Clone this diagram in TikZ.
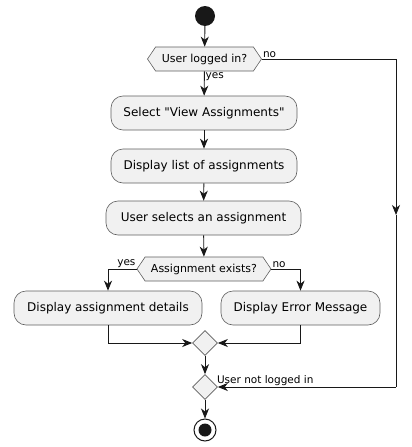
\documentclass[tikz,border=0pt]{standalone}
\usepackage{fontspec}
\setmainfont{DejaVu Sans}
\usetikzlibrary{arrows.meta, shapes.symbols, shapes.geometric, positioning}
\definecolor{boxfill}{HTML}{F1F1F1}
\definecolor{lineclr}{HTML}{181818}
\definecolor{edgeclr}{HTML}{5E5E5E}

\begin{document}
\begin{tikzpicture}[x=1pt, y=-1pt,
    action/.style={draw=edgeclr, fill=boxfill, line width=0.6pt, rounded corners=12pt,
      minimum height=34pt, inner sep=0pt, font=\fontsize{12}{14}\selectfont},
    decision/.style={draw=edgeclr, fill=boxfill, line width=0.6pt, signal,
      signal to=west and east, signal pointer angle=112, minimum height=24pt,
      inner sep=0pt, font=\fontsize{11}{13}\selectfont},
    merge/.style={diamond, draw=edgeclr, fill=boxfill, line width=0.6pt,
      minimum size=25pt, inner sep=0pt},
    flow/.style={draw=lineclr, line width=0.9pt,
      -{Stealth[length=10pt, width=8pt, inset=3pt]}},
    lbl/.style={font=\fontsize{10.5}{12}\selectfont, inner sep=1pt}
  ]

    \useasboundingbox (0,0) rectangle (412,447);

    % start and first question
    \node[circle, fill=lineclr, minimum size=20pt, inner sep=0pt] (start) at (205,16) {};
    \node[decision, minimum width=114pt] (login) at (204.5,59) {User logged in?};

    % main steps
    \node[action, minimum width=186pt] (select) at (204,113) {Select \textquotedbl View Assignments\textquotedbl};
    \node[action, minimum width=186pt] (list) at (204,166) {Display list of assignments};
    \node[action, minimum width=195pt] (choose) at (203.5,218) {User selects an assignment};

    % second question and its branches
    \node[decision, minimum width=134pt] (exists) at (204,269) {Assignment exists?};
    \node[action, minimum width=188pt] (details) at (108,308) {Display assignment details};
    \node[action, minimum width=159pt] (error) at (300.5,308) {Display Error Message};

    % merges and end
    \node[merge] (join) at (205,343) {};
    \node[merge] (final) at (205,387) {};
    \node[circle, draw=lineclr, line width=1pt, minimum size=22pt, inner sep=0pt] (stop) at (205,430) {};
    \node[circle, fill=lineclr, minimum size=13pt, inner sep=0pt] (stopdot) at (stop) {};

    \coordinate (noturn) at (396,59);
    \coordinate (nomid) at (396,215);
    \coordinate (nobottom) at (396,387);

    \draw[flow] (start) -- (login);
    \draw[flow] (login) -- (select);
    \draw[flow] (select) -- (list);
    \draw[flow] (list) -- (choose);
    \draw[flow] (choose) -- (exists);

    \draw[flow] (login.east) -- (noturn) -- (nomid);
    \draw[draw=lineclr, line width=0.9pt] (nomid) -- (nobottom);
    \draw[flow] (nobottom) -- (final.east);

    \draw[flow] (exists.west) -| (details.north);
    \draw[flow] (exists.east) -| (error.north);
    \draw[flow] (details.south) |- (join.west);
    \draw[flow] (error.south) |- (join.east);
    \draw[flow] (join) -- (final);
    \draw[flow] (final) -- (stop);

    % labels
    \node[lbl, anchor=north west] (yeslogin) at (login.south) {yes};
    \node[lbl, anchor=south west] (nologin) at (login.east) {no};
    \node[lbl, anchor=south east] (yesexists) at (exists.west) {yes};
    \node[lbl, anchor=south west] (noexists) at (exists.east) {no};
    \node[lbl, anchor=south west] (notlogged) at ([xshift=-2pt]final.east) {User not logged in};

\end{tikzpicture}
\end{document}
